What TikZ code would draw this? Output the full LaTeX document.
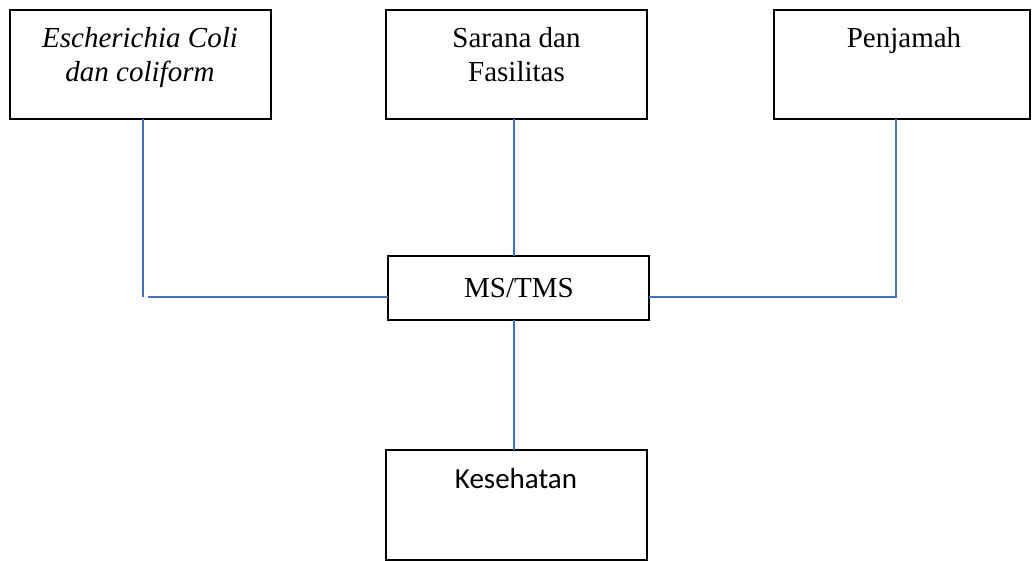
\documentclass[tikz,border=0pt]{standalone}
\usepackage{fontspec}
\setmainfont{Liberation Serif}
\newfontfamily\carlitofont{Carlito}
\definecolor{conncol}{RGB}{68,114,196}
\begin{document}
\begin{tikzpicture}[x=1pt,y=-1pt,
  box/.style={draw=black, line width=2.6pt, rectangle, inner sep=0pt, outer sep=0pt, fill=white},
  bigbox/.style={box, minimum width=261pt, minimum height=109pt},
  txt/.style={font=\fontsize{29}{34}\selectfont, inner sep=0pt, anchor=base},
  conn/.style={draw=conncol, line width=1.3pt}]
\useasboundingbox (0,0) rectangle (1032,561);
% boxes
\node[bigbox] (b1) at (140.5,64.5) {};
\node[bigbox] (b2) at (516.5,64.5) {};
\node[bigbox, minimum width=256pt] (b3) at (902,64.5) {};
\node[box, minimum width=261pt, minimum height=64pt] (ms) at (518.5,288) {};
\node[bigbox, minimum height=110pt] (kes) at (516.5,505) {};
% texts
\node[txt] (t1a) at (140,48) {\itshape Escherichia Coli};
\node[txt] (t1b) at (140,82) {\itshape dan coliform};
\node[txt] (t2a) at (516.5,48) {Sarana dan};
\node[txt] (t2b) at (516.5,82) {Fasilitas};
\node[txt] (t3) at (904,48) {Penjamah};
\node[txt] (tms) at (519,297) {MS/TMS};
\node[txt, font=\carlitofont\fontsize{29}{34}\selectfont] (tkes) at (516,488) {Kesehatan};
% helper coordinates
\coordinate (v1) at (143,0);
\coordinate (v2) at (514,0);
\coordinate (v3) at (896,0);
\coordinate (h) at (0,297);
\coordinate (l1end) at (143,297);
\coordinate (hstart) at (148,297);
\coordinate (r3) at (896,297);
% connectors
\draw[conn] (b1.south -| v1) -- (l1end);
\draw[conn] (hstart) -- (ms.west |- h);
\draw[conn] (b2.south -| v2) -- (ms.north -| v2);
\draw[conn] (b3.south -| v3) -- (r3) -- (ms.east |- h);
\draw[conn] (ms.south -| v2) -- (kes.north -| v2);
\end{tikzpicture}
\end{document}
